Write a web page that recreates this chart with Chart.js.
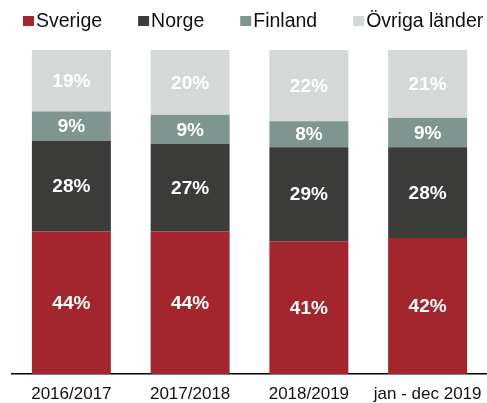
<!DOCTYPE html>
<html>
<head>
<meta charset="utf-8">
<script src="https://cdn.jsdelivr.net/npm/chart.js@4/dist/chart.umd.min.js"></script>
<style>
  html, body { margin: 0; padding: 0; background: #ffffff; }
  #wrap { width: 487px; height: 403px; position: relative; }
</style>
</head>
<body>
<div id="wrap"><canvas id="c" width="487" height="403"></canvas></div>
<script>
const categories = ['2016/2017', '2017/2018', '2018/2019', 'jan - dec 2019'];
const seriesNames = ['Sverige', 'Norge', 'Finland', 'Övriga länder'];
const sverige = [44, 44, 41, 42];
const norge   = [28, 27, 29, 28];
const finland = [9, 9, 8, 9];
const ovriga  = [19, 20, 22, 21];
const colors  = ['#A3262F', '#3B3B39', '#7F9590', '#D4D8D7'];

const valueSets = [sverige, norge, finland, ovriga];
const datasets = seriesNames.map((name, i) => ({
  label: name,
  data: valueSets[i],
  backgroundColor: colors[i],
  borderWidth: 0,
  categoryPercentage: 1.0,
  barPercentage: 0.665
}));

const labelPlugin = {
  id: 'segLabels',
  afterDatasetsDraw(chart) {
    const ctx = chart.ctx;
    ctx.save();
    ctx.font = 'bold 19px "Liberation Sans", Arial, sans-serif';
    ctx.fillStyle = '#ffffff';
    ctx.textAlign = 'center';
    ctx.textBaseline = 'middle';
    chart.data.datasets.forEach((ds, di) => {
      const meta = chart.getDatasetMeta(di);
      meta.data.forEach((bar, i) => {
        const y = (bar.y + bar.base) / 2;
        ctx.fillText(ds.data[i] + '%', bar.x, y + 1);
      });
    });
    ctx.restore();
  }
};

const legendPlugin = {
  id: 'customLegend',
  afterDraw(chart) {
    const ctx = chart.ctx;
    ctx.save();
    ctx.font = '19.5px "Liberation Sans", Arial, sans-serif';
    ctx.textBaseline = 'middle';
    ctx.textAlign = 'left';
    let x = 23;
    chart.data.datasets.forEach(ds => {
      ctx.fillStyle = ds.backgroundColor;
      ctx.fillRect(x, 16, 11, 10);
      const tx = x + 13;
      ctx.fillStyle = '#111111';
      ctx.fillText(ds.label, tx, 22);
      x = tx + ctx.measureText(ds.label).width + 36;
    });
    ctx.restore();
  }
};

new Chart(document.getElementById('c'), {
  type: 'bar',
  data: { labels: categories, datasets },
  plugins: [labelPlugin, legendPlugin],
  options: {
    responsive: false,
    animation: false,
    layout: { padding: { top: 50, left: 12, right: -1, bottom: 0 } },
    plugins: { legend: { display: false }, tooltip: { enabled: false } },
    scales: {
      x: {
        stacked: true,
        grid: { display: false, drawTicks: true, tickLength: 10 },
        border: { display: true, color: '#000000', width: 1.5 },
        ticks: {
          padding: 0,
          color: '#111111',
          font: { family: '"Liberation Sans", Arial, sans-serif', size: 17 }
        },
        afterFit(scale) { scale.height = 29; }
      },
      y: {
        stacked: true,
        display: false,
        min: 0,
        max: 100
      }
    }
  }
});
</script>
</body>
</html>
